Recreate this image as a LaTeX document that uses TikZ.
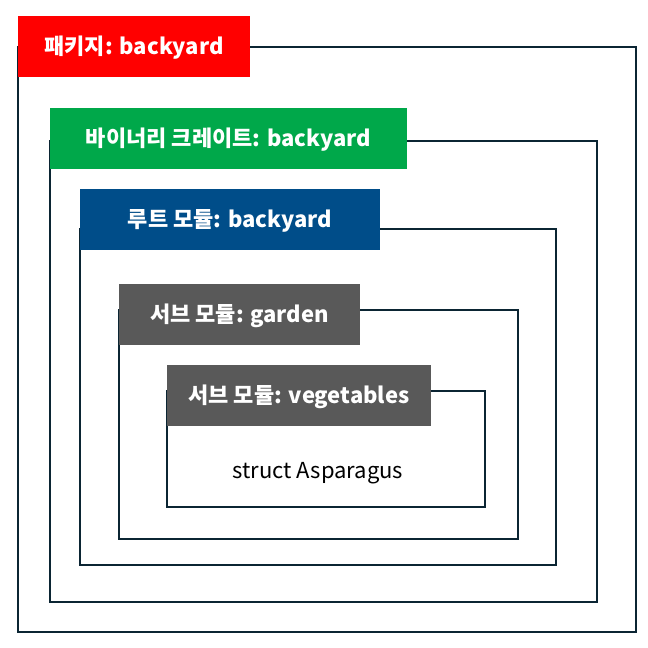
\documentclass[tikz,border=0pt]{standalone}
\usepackage{fontspec}
\setmainfont{Noto Sans CJK KR}
\definecolor{linec}{HTML}{0B2533}
\definecolor{lred}{HTML}{FF0000}
\definecolor{lgreen}{HTML}{00A84A}
\definecolor{lblue}{HTML}{004D89}
\definecolor{lgray}{HTML}{595959}
\begin{document}
\begin{tikzpicture}[x=1pt,y=-1pt,
  frame/.style={draw=linec, line width=2pt, anchor=north west, inner sep=0pt, outer sep=0pt},
  lab/.style={anchor=north west, inner sep=0pt, outer sep=0pt, text=white,
    minimum height=61pt, text height=15.6pt, text depth=0pt,
    font=\bfseries\fontsize{22}{26}\selectfont},
]
\useasboundingbox (0,0) rectangle (648,648);
% frames
\node[frame, minimum width=618pt, minimum height=585pt] (f1) at (18,47) {};
\node[frame, minimum width=547pt, minimum height=461pt] (f2) at (50,141) {};
\node[frame, minimum width=476pt, minimum height=336pt] (f3) at (80,229) {};
\node[frame, minimum width=399pt, minimum height=229pt] (f4) at (119,310) {};
\node[frame, minimum width=318pt, minimum height=116pt] (f5) at (167,391) {};
% labels
\node[lab, fill=lred, minimum width=232pt] (l1) at (18,16) {패키지: backyard};
\node[lab, fill=lgreen, minimum width=357pt] (l2) at (50,108) {바이너리 크레이트: backyard};
\node[lab, fill=lblue, minimum width=300pt] (l3) at (80,189) {루트 모듈: backyard};
\node[lab, fill=lgray, minimum width=241pt] (l4) at (119,284) {서브 모듈: garden};
\node[lab, fill=lgray, minimum width=264pt] (l5) at (167,365) {서브 모듈: vegetables};
% content
\node[font=\fontsize{22}{26}\selectfont, text=black, anchor=base, inner sep=0pt] (t) at (318,478) {struct Asparagus};
\end{tikzpicture}
\end{document}
